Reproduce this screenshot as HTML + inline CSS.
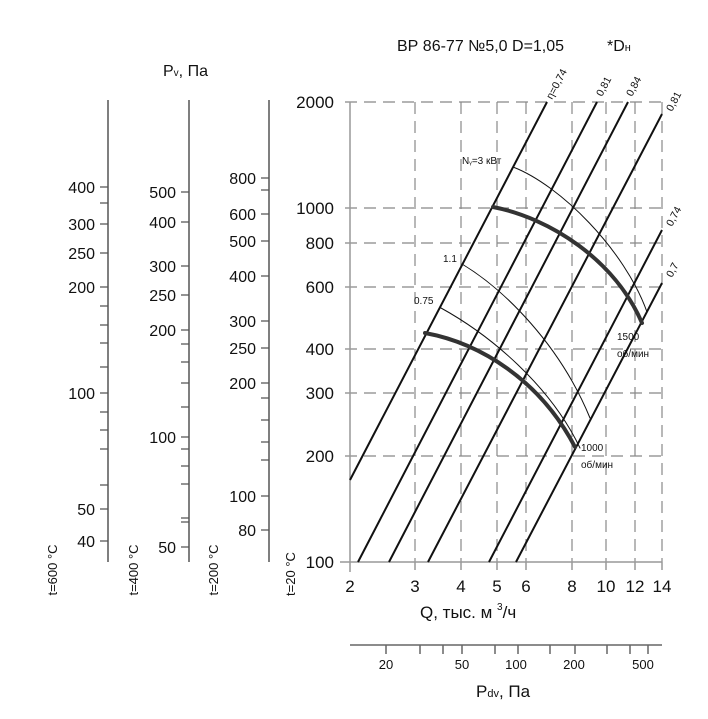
<!DOCTYPE html>
<html><head><meta charset="utf-8"><style>
body{margin:0;background:#fff}
svg{display:block;font-family:"Liberation Sans","DejaVu Sans",sans-serif}
</style></head><body>
<svg width="708" height="719" viewBox="0 0 708 719" xmlns="http://www.w3.org/2000/svg">
<rect width="708" height="719" fill="#fff"/>
<g stroke="#888" stroke-width="1.2" stroke-dasharray="12,7" fill="none">
<line x1="345" y1="102" x2="662" y2="102"/>
<line x1="345" y1="208" x2="662" y2="208"/>
<line x1="345" y1="243" x2="662" y2="243"/>
<line x1="345" y1="287" x2="662" y2="287"/>
<line x1="345" y1="349" x2="662" y2="349"/>
<line x1="345" y1="393" x2="662" y2="393"/>
<line x1="345" y1="456" x2="662" y2="456"/>
<line x1="415" y1="102" x2="415" y2="562"/>
<line x1="461" y1="102" x2="461" y2="562"/>
<line x1="497" y1="102" x2="497" y2="562"/>
<line x1="526" y1="102" x2="526" y2="562"/>
<line x1="572" y1="102" x2="572" y2="562"/>
<line x1="606" y1="102" x2="606" y2="562"/>
<line x1="635" y1="102" x2="635" y2="562"/>
<line x1="662" y1="102" x2="662" y2="562"/>
</g>
<g stroke="#999" stroke-width="1.5">
<line x1="350" y1="102" x2="350" y2="572"/>
<line x1="340" y1="562" x2="662" y2="562"/>
<line x1="415" y1="562" x2="415" y2="570"/><line x1="461" y1="562" x2="461" y2="570"/>
<line x1="497" y1="562" x2="497" y2="570"/><line x1="526" y1="562" x2="526" y2="570"/>
<line x1="572" y1="562" x2="572" y2="570"/><line x1="606" y1="562" x2="606" y2="570"/>
<line x1="635" y1="562" x2="635" y2="570"/><line x1="662" y1="562" x2="662" y2="570"/>
</g>
<g stroke="#111" stroke-width="2" fill="none">
<line x1="350" y1="480" x2="547" y2="102"/>
<line x1="358" y1="562" x2="597" y2="102"/>
<line x1="389" y1="562" x2="628" y2="102"/>
<line x1="428" y1="562" x2="662" y2="114"/>
<line x1="489" y1="562" x2="662" y2="230"/>
<line x1="516" y1="562" x2="662" y2="283"/>
</g>
<g fill="none" stroke="#111" stroke-linecap="round">
<path d="M513,167 C560,185 625,250 647,312" stroke-width="1"/>
<path d="M493,207 C550,218 615,260 642,323" stroke-width="4" stroke="#333"/>
<path d="M462,264 C505,290 560,345 590,418" stroke-width="1"/>
<path d="M441,308 C490,335 550,385 580,448" stroke-width="1"/>
<path d="M425,333 C480,343 540,380 575,447" stroke-width="4" stroke="#333"/>
</g>
<g font-size="10" fill="#111">
<text x="462" y="164">N<tspan font-size="8">ᵧ</tspan>=3 кВт</text>
<text x="443" y="262">1.1</text>
<text x="414" y="304">0.75</text>
<text x="617" y="340">1500</text><text x="617" y="357">об/мин</text>
<text x="581" y="451">1000</text><text x="581" y="468">об/мин</text>
</g>
<g font-size="10.5" fill="#111">
<text transform="translate(552,100) rotate(-62)">η=0,74</text>
<text transform="translate(602,97) rotate(-62)">0,81</text>
<text transform="translate(632,97) rotate(-62)">0,84</text>
<text transform="translate(672,112) rotate(-62)">0,81</text>
<text transform="translate(672,227) rotate(-62)">0,74</text>
<text transform="translate(672,278) rotate(-62)">0,7</text>
</g>
<g font-size="17" fill="#111" text-anchor="end">
<text x="334" y="108">2000</text><text x="334" y="214">1000</text>
<text x="334" y="249">800</text><text x="334" y="293">600</text>
<text x="334" y="355">400</text><text x="334" y="399">300</text>
<text x="334" y="462">200</text><text x="334" y="568">100</text>
</g>
<g font-size="17" fill="#111" text-anchor="middle">
<text x="350" y="592">2</text><text x="415" y="592">3</text><text x="461" y="592">4</text>
<text x="497" y="592">5</text><text x="526" y="592">6</text><text x="572" y="592">8</text>
<text x="606" y="592">10</text><text x="635" y="592">12</text><text x="662" y="592">14</text>
</g>
<text x="420" y="618" font-size="17" fill="#111">Q, тыс. м <tspan font-size="10" dy="-8">3</tspan><tspan dy="8">/ч</tspan></text>
<g stroke="#666" stroke-width="1.5">
<line x1="350" y1="645" x2="662" y2="645"/>
<line x1="386" y1="645" x2="386" y2="654"/><line x1="420" y1="645" x2="420" y2="654"/>
<line x1="443" y1="645" x2="443" y2="654"/><line x1="462" y1="645" x2="462" y2="654"/>
<line x1="495" y1="645" x2="495" y2="654"/><line x1="518" y1="645" x2="518" y2="654"/>
<line x1="550" y1="645" x2="550" y2="654"/><line x1="575" y1="645" x2="575" y2="654"/>
<line x1="607" y1="645" x2="607" y2="654"/><line x1="630" y1="645" x2="630" y2="654"/>
<line x1="648" y1="645" x2="648" y2="654"/>
</g>
<g font-size="13" fill="#111" text-anchor="middle">
<text x="386" y="669">20</text><text x="462" y="669">50</text><text x="516" y="669">100</text>
<text x="574" y="669">200</text><text x="643" y="669">500</text>
</g>
<text x="476" y="697" font-size="17" fill="#111">P<tspan font-size="11">dv</tspan>, Па</text>
<text x="397" y="51" font-size="16" fill="#111">ВР 86-77 №5,0 D=1,05</text>
<text x="607" y="51" font-size="16" fill="#111">*D<tspan font-size="11">н</tspan></text>
<text x="163" y="76" font-size="16" fill="#111">P<tspan font-size="10">v</tspan>, Па</text>
<g stroke="#555" stroke-width="1.5">
<line x1="108" y1="100" x2="108" y2="562"/>
<line x1="189" y1="100" x2="189" y2="562"/>
<line x1="269" y1="100" x2="269" y2="562"/>
</g>
<g stroke="#555" stroke-width="1.2">
<path d="M100,187h8M100,203h8M100,224h8M100,253h8M100,287h8M100,306h8M100,325h8M100,343h8M100,367h8M100,393h8M100,412h8M100,430h8M100,449h8M100,485h8M100,509h8M100,541h8"/>
<path d="M181,192h8M181,222h8M181,266h8M181,295h8M181,330h8M181,344h8M181,362h8M181,383h8M181,407h8M181,437h8M181,449h8M181,466h8M181,484h8M181,518h8M181,522h8M181,547h8"/>
<path d="M261,178h8M261,190h8M261,214h8M261,241h8M261,276h8M261,321h8M261,348h8M261,383h8M261,398h8M261,420h8M261,442h8M261,460h8M261,496h8M261,530h8"/>
</g>
<g font-size="16" fill="#111" text-anchor="end">
<text x="95" y="193">400</text><text x="95" y="230">300</text><text x="95" y="259">250</text>
<text x="95" y="293">200</text><text x="95" y="399">100</text><text x="95" y="515">50</text><text x="95" y="547">40</text>
<text x="176" y="198">500</text><text x="176" y="228">400</text><text x="176" y="272">300</text>
<text x="176" y="301">250</text><text x="176" y="336">200</text><text x="176" y="443">100</text><text x="176" y="553">50</text>
<text x="256" y="184">800</text><text x="256" y="220">600</text><text x="256" y="247">500</text>
<text x="256" y="282">400</text><text x="256" y="327">300</text><text x="256" y="354">250</text>
<text x="256" y="389">200</text><text x="256" y="502">100</text><text x="256" y="536">80</text>
</g>
<g font-size="13" fill="#111" text-anchor="middle">
<text transform="translate(57,570) rotate(-90)">t=600 °C</text>
<text transform="translate(138,570) rotate(-90)">t=400 °C</text>
<text transform="translate(218,570) rotate(-90)">t=200 °C</text>
<text transform="translate(295,574) rotate(-90)">t=20 °C</text>
</g>
</svg>
</body></html>
